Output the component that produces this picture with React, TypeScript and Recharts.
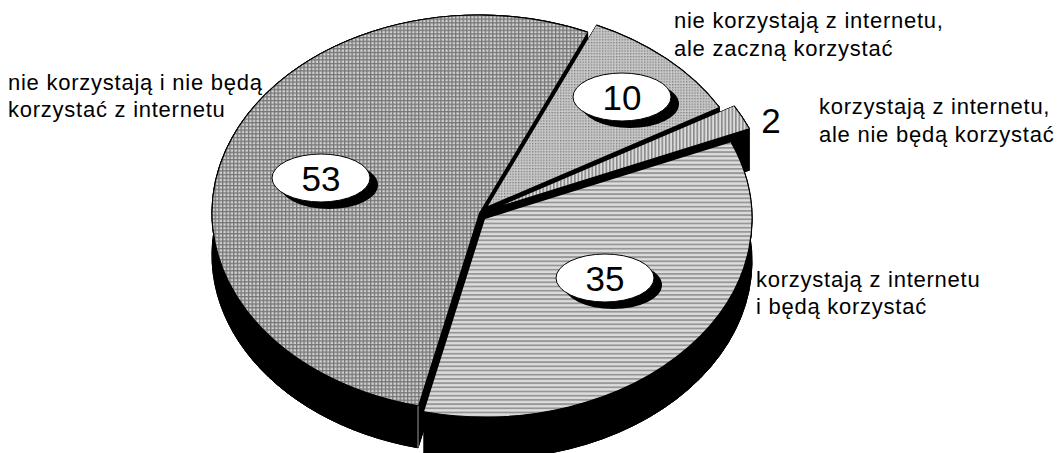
import React from "react";
import { PieChart, Pie } from "recharts";

const categories = [
  "nie korzystają i nie będą korzystać z internetu",
  "korzystają z internetu i będą korzystać",
  "korzystają z internetu, ale nie będą korzystać",
  "nie korzystają z internetu, ale zaczną korzystać",
];
const values = [53, 35, 2, 10];
const labelLines = [
  ["nie korzystają i nie będą", "korzystać z internetu"],
  ["korzystają z internetu", "i będą korzystać"],
  ["korzystają z internetu,", "ale nie będą korzystać"],
  ["nie korzystają z internetu,", "ale zaczną korzystać"],
];
const data = categories.map((name, i) => ({ name, value: values[i] }));

const W = 1058, H = 453;
const CX = 480, CY = 214, R = 198;
const RX = 267, RY = 198, DEPTH = 42;
const explode = [[-1, -1], [5, 5], [23, -9], [8, -8]];
const fills = ["url(#pGrid)", "url(#pHoriz)", "url(#pVert)", "url(#pDots)"];
const badge = [[-159, -36], [125, 64], [291, -94], [142, -117]];
const caption = [[8, 90], [756, 287], [819, 114], [674, 28]];
const lineGap = [27, 27, 28, 28];
const FONT = "'Liberation Sans', Arial, sans-serif";

const pt = (cx: number, cy: number, a: number): [number, number] => {
  const t = (a * Math.PI) / 180;
  return [cx + RX * Math.cos(t), cy - RY * Math.sin(t)];
};

function arcPath(cx: number, cy: number, a0: number, a1: number, move = true) {
  const [x0, y0] = pt(cx, cy, a0);
  const [x1, y1] = pt(cx, cy, a1);
  const big = Math.abs(a1 - a0) > 180 ? 1 : 0;
  return `${move ? "M" : "L"}${x0} ${y0}A${RX} ${RY} 0 ${big} 0 ${x1} ${y1}`;
}

function Wall(p: any) {
  const [dx, dy] = explode[p.index];
  const cx = p.cx + dx, cy = p.cy + dy;
  const a0 = p.startAngle, a1 = p.endAngle;
  const [x0, y0] = pt(cx, cy, a0);
  const [x1, y1] = pt(cx, cy, a1);
  const sector = (off: number) => `M${cx} ${cy + off}L${arcPath(cx, cy + off, a0, a1).slice(1)}Z`;
  const [bx0, by0] = pt(cx, cy + DEPTH, a1);
  const [bx1, by1] = pt(cx, cy + DEPTH, a0);
  const big = Math.abs(a1 - a0) > 180 ? 1 : 0;
  const sweep = `M${x0} ${y0}A${RX} ${RY} 0 ${big} 0 ${x1} ${y1}L${bx0} ${by0}A${RX} ${RY} 0 ${big} 1 ${bx1} ${by1}Z`;
  const q = (x: number, y: number) => `M${cx} ${cy}L${x} ${y}L${x} ${y + DEPTH}L${cx} ${cy + DEPTH}Z`;
  return (
    <g>
      {[sector(0), sector(DEPTH), sweep, q(x0, y0), q(x1, y1)].map((d, i) => (
        <path key={i} d={d} fill="#000" stroke="#000" strokeWidth={1} />
      ))}
      {p.index === 0 && <line x1={x1} y1={y1} x2={x1} y2={y1 + DEPTH} stroke="#999" strokeWidth={1} />}
    </g>
  );
}

function Top(p: any) {
  const [dx, dy] = explode[p.index];
  const cx = p.cx + dx, cy = p.cy + dy;
  const d = `M${cx} ${cy}L${arcPath(cx, cy, p.startAngle, p.endAngle).slice(1)}Z`;
  return (
    <g>
      <path d={d} fill={fills[p.index]} stroke="none" />
      <path d={arcPath(cx, cy, p.startAngle, p.endAngle)} fill="none" stroke="#000" strokeWidth={1.2} />
    </g>
  );
}

function Label(p: any) {
  const i = p.index;
  const bx = p.cx + badge[i][0], by = p.cy + badge[i][1];
  const isSmall = p.value < 5;
  return (
    <g>
      {!isSmall && <ellipse cx={bx + 8} cy={by + 7} rx={49} ry={24} fill="#000" />}
      {!isSmall && <ellipse cx={bx} cy={by} rx={49} ry={24} fill="#fff" stroke="#000" strokeWidth={1} />}
      <text x={bx} y={by + 13} textAnchor="middle" fontFamily={FONT} fontSize={35} fill="#000">{p.value}</text>
      <text fontFamily={FONT} fontSize={22} letterSpacing={0.75} fill="#000">
        {labelLines[i].map((l, k) => (
          <tspan key={k} x={caption[i][0]} y={caption[i][1] + k * lineGap[i]}>{l}</tspan>
        ))}
      </text>
    </g>
  );
}

export default function App() {
  const common = {
    data, dataKey: "value", nameKey: "name", cx: CX, cy: CY, outerRadius: R, innerRadius: 0,
    startAngle: 66, endAngle: 426, paddingAngle: 0, isAnimationActive: false, stroke: "none",
  };
  return (
    <div style={{ position: "absolute", left: 0, top: 0, width: W, height: H, background: "#fff", overflow: "hidden" }}>
      <PieChart width={W} height={H} margin={{ top: 0, right: 0, bottom: 0, left: 0 }}>
        <defs>
          <pattern id="pGrid" width="3.7" height="3.7" patternUnits="userSpaceOnUse">
            <rect width="3.7" height="3.7" fill="#d2d2d2" />
            <rect width="1.3" height="3.7" fill="#757575" />
            <rect width="3.7" height="1.3" fill="#757575" />
          </pattern>
          <pattern id="pHoriz" width="4.2" height="4.2" patternUnits="userSpaceOnUse">
            <rect width="4.2" height="4.2" fill="#dcdcdc" />
            <rect width="4.2" height="1.8" fill="#969696" />
          </pattern>
          <pattern id="pVert" width="3.5" height="3.5" patternUnits="userSpaceOnUse">
            <rect width="3.5" height="3.5" fill="#dcdcdc" />
            <rect width="1.6" height="3.5" fill="#8a8a8a" />
          </pattern>
          <pattern id="pDots" width="2.8" height="2.8" patternUnits="userSpaceOnUse">
            <rect width="2.8" height="2.8" fill="#c8c8c8" />
            <rect width="1.3" height="1.3" fill="#7a7a7a" />
          </pattern>
        </defs>
        <Pie {...common} shape={Wall} label={false} labelLine={false} />
        <Pie {...common} shape={Top} label={Label} labelLine={false} />
      </PieChart>
    </div>
  );
}
